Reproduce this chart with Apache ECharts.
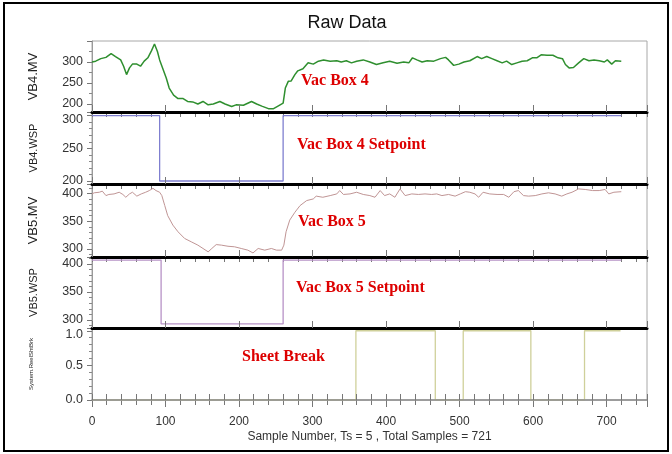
<!DOCTYPE html>
<html>
<head>
<meta charset="utf-8">
<script src="https://cdn.jsdelivr.net/npm/echarts@6/dist/echarts.min.js"></script>
<style>html,body{margin:0;padding:0;background:#fff;}#c{width:672px;height:454px;}</style>
</head>
<body>
<div id="c"></div>
<script>
// ---- data (sample number, value) ----
const titleText = 'Raw Data';
const xAxisName = 'Sample Number, Ts = 5 , Total Samples = 721';
const panelNames = ['VB4.MV', 'VB4.WSP', 'VB5.MV', 'VB5.WSP', 'System.ReelShtBrk'];
const annotations = ['Vac Box 4', 'Vac Box 4 Setpoint', 'Vac Box 5', 'Vac Box 5 Setpoint', 'Sheet Break'];

const vb4mv = [[0,300],[5,302],[12,308],[19,311],[26,320],[32,313],[39,305],[43,290],[47,270],[51,286],[55,295],[61,295],[66,290],[71,302],[76,310],[81,327],[85,343],[89,325],[92,305],[96,286],[101,262],[105,238],[111,221],[117,213],[124,213],[130,206],[137,205],[144,200],[151,206],[158,198],[165,200],[174,206],[181,200],[190,194],[196,198],[206,197],[217,206],[224,200],[231,195],[240,189],[247,189],[253,195],[255,192],[260,202],[263,238],[267,254],[271,255],[276,270],[280,279],[287,284],[294,298],[301,295],[308,302],[315,305],[324,302],[333,303],[339,300],[346,303],[353,298],[360,302],[369,305],[378,300],[387,294],[396,298],[405,302],[415,297],[424,300],[431,298],[436,310],[442,305],[449,300],[456,303],[465,302],[474,308],[481,311],[485,305],[492,292],[499,295],[506,300],[514,303],[524,313],[530,308],[537,313],[544,308],[551,303],[558,298],[564,302],[571,294],[578,298],[585,302],[592,303],[599,310],[605,310],[611,317],[619,316],[627,316],[634,310],[640,308],[644,294],[649,286],[655,287],[662,298],[669,308],[676,303],[683,305],[690,303],[697,300],[701,305],[707,295],[712,303],[720,302]];

const vb4wsp = [[0,300],[92,300],[92,200],[260,200],[260,300],[720,300]];

const vb5mv = [[0,399],[3,401],[10,402],[14,404],[19,396],[23,398],[30,399],[37,402],[42,398],[46,393],[51,399],[55,402],[61,395],[67,399],[73,402],[78,405],[83,409],[87,405],[92,402],[95,396],[99,378],[103,360],[110,343],[117,331],[126,319],[135,313],[144,307],[151,301],[158,295],[163,301],[169,308],[176,307],[185,305],[194,304],[203,301],[212,298],[219,293],[226,301],[235,298],[244,301],[251,298],[258,298],[261,307],[264,331],[269,352],[276,366],[283,378],[292,387],[301,390],[305,395],[314,393],[324,396],[333,399],[337,405],[342,398],[351,399],[360,402],[369,398],[378,396],[385,393],[392,405],[398,396],[405,399],[412,393],[419,408],[426,396],[435,399],[444,398],[453,399],[462,398],[469,399],[476,396],[485,398],[494,395],[501,399],[508,403],[514,402],[521,399],[526,393],[532,402],[541,399],[551,398],[560,398],[567,393],[574,403],[580,405],[587,396],[594,395],[603,396],[612,399],[621,401],[630,399],[639,395],[646,399],[653,402],[662,408],[671,407],[681,405],[690,405],[698,407],[703,399],[710,402],[720,403]];

const vb5wsp = [[0,407],[94,407],[94,293],[260,293],[260,407],[720,407]];

const sheetBreak = [[0,0],[359,0],[359,1],[467,1],[467,0],[505,0],[505,1],[597,1],[597,0],[670,0],[670,1],[719,1]];

const yRanges = [[181,350],[195.4,305.5],[285.7,416.8],[285.7,412.4],[0,1.04]];
const yTickStep = [50, 50, 50, 50, 0.5];
const xMin = 0, xMax = 755, xStep = 100;

// ---- layout ----
const panelTops = [41, 112, 184, 257, 328];
const panelBottoms = [112, 184, 257, 328, 400];
const L = 92, R = 25;
const fontSans = 'Liberation Sans, Arial, sans-serif';
const fontSerif = 'Liberation Serif, Times New Roman, serif';

const chart = echarts.init(document.getElementById('c'), null, {renderer: 'canvas'});

const grids = panelTops.map((t, i) => ({
  left: L, right: R, top: t, height: panelBottoms[i] - t,
  show: true, borderColor: '#a8a8a8', borderWidth: 1, backgroundColor: 'transparent'
}));

const xAxes = [];
for (let i = 0; i < 5; i++) {
  // bottom axis
  xAxes.push({
    type: 'value', gridIndex: i, min: xMin, max: xMax, interval: xStep, position: 'bottom', z: 5,
    axisLine: {show: true, onZero: false, lineStyle: i < 4 ? {color: '#000', width: 3} : {color: '#8a8a8a', width: 1.5}},
    axisTick: {show: true, inside: true, length: i < 4 ? 7 : 6, lineStyle: {color: '#777'}},
    minorTick: {show: i === 4, splitNumber: 5, length: 6, lineStyle: {color: '#777'}},
    axisLabel: {show: false}, splitLine: {show: false}
  });
  // top axis
  xAxes.push({
    type: 'value', gridIndex: i, min: xMin, max: xMax, interval: xStep, position: 'top',
    axisLine: {show: false},
    axisTick: {show: i > 0, inside: true, length: 5, lineStyle: {color: '#777'}},
    minorTick: {show: i > 0, splitNumber: 5, length: 5, lineStyle: {color: '#777'}},
    axisLabel: {show: false}, splitLine: {show: false}
  });
}
// outer axis with labels for bottom panel
xAxes.push({
  type: 'value', gridIndex: 4, min: xMin, max: xMax, interval: xStep, position: 'bottom',
  axisLine: {show: false},
  axisTick: {show: true, inside: false, length: 7, lineStyle: {color: '#777'}},
  axisLabel: {show: true, margin: 16, fontSize: 12, fontFamily: fontSans, color: '#333',
    formatter: v => (v % 100 === 0 ? String(v) : '')},
  splitLine: {show: false},
  name: xAxisName, nameLocation: 'middle', nameGap: 31,
  nameTextStyle: {fontSize: 12, fontFamily: fontSans, color: '#333'}
});

const nameFont = [13, 11, 13, 11, 6];
const nameGaps = [52, 53, 52, 53, 58];
const splitNums = [3, 2, 3, 3, 2];
const minorSplits = [2, 5, 5, 5, 5];
const labelShift = [null, 300, null, null, 1]; // label nudged down to stay inside panel

const yAxes = panelNames.map((nm, i) => ({
  type: 'value', gridIndex: i, min: yRanges[i][0], max: yRanges[i][1], splitNumber: splitNums[i],
  axisLine: {show: true, lineStyle: {color: '#9a9a9a', width: 1}},
  axisTick: {show: true, length: 5, lineStyle: {color: '#777'}},
  minorTick: {show: true, splitNumber: minorSplits[i], length: 3, lineStyle: {color: '#888'}},
  splitLine: {show: false}, minorSplitLine: {show: false},
  axisLabel: {
    show: true, margin: 9, fontSize: 12.5, fontFamily: fontSans, color: '#333',
    formatter: v => {
      const st = yTickStep[i];
      const k = v / st;
      if (Math.abs(k - Math.round(k)) > 1e-6) return '';
      if (v > yRanges[i][1] - 1e-9 && v !== 0) return '';
      const txt = i === 4 ? v.toFixed(1) : String(Math.round(v));
      if (labelShift[i] !== null && Math.abs(v - labelShift[i]) < 1e-6) return '{dn|' + txt + '}';
      return txt;
    },
    rich: {dn: {padding: [8, 0, 0, 0], fontSize: 12.5, fontFamily: fontSans, color: '#333'}}
  },
  name: nm, nameLocation: 'middle', nameGap: nameGaps[i],
  nameTextStyle: {fontSize: nameFont[i], fontFamily: fontSans, color: '#222'}
}));

const mk = (data, idx, color, width) => ({
  type: 'line', data: data, xAxisIndex: idx * 2, yAxisIndex: idx, z: 2,
  showSymbol: false, symbol: 'none', smooth: false, clip: true,
  lineStyle: {color: color, width: width}, silent: true, animation: false
});

const series = [
  mk(vb4mv, 0, '#2f8f2f', 1.5),
  mk(vb4wsp, 1, '#7f7fd0', 1.3),
  mk(vb5mv, 2, '#c09595', 1),
  mk(vb5wsp, 3, '#b792c6', 1.3),
  mk(sheetBreak, 4, '#cfd09a', 1.3)
];

const annPos = [[301, 81], [297, 145], [298, 222], [296, 288], [242, 357]];
const graphics = [
  {type: 'rect', shape: {x: 4, y: 3, width: 664, height: 448}, style: {fill: 'none', stroke: '#000', lineWidth: 2}, z: 100}
].concat(annotations.map((t, i) => ({
  type: 'text', x: annPos[i][0], y: annPos[i][1], z: 100,
  style: {text: t, fill: '#dd0000', font: 'bold 16px ' + fontSerif, verticalAlign: 'middle', align: 'left'}
})));

chart.setOption({
  animation: false,
  backgroundColor: '#fff',
  title: {text: titleText, left: 347, top: 14, padding: 0, textAlign: 'center',
    textStyle: {fontSize: 18, fontWeight: 'normal', fontFamily: fontSans, color: '#111'}},
  grid: grids, xAxis: xAxes, yAxis: yAxes, series: series, graphic: graphics
});
</script>
</body>
</html>
